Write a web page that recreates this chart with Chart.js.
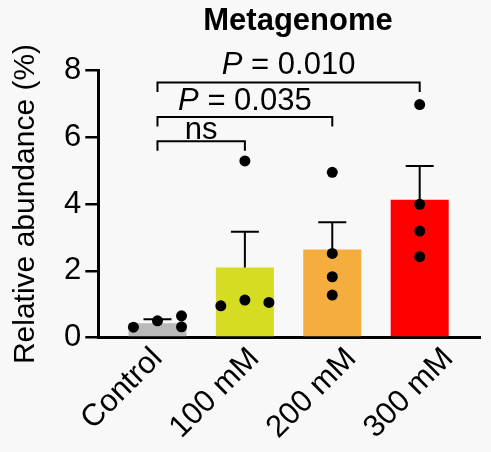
<!DOCTYPE html>
<html>
<head>
<meta charset="utf-8">
<script src="https://cdn.jsdelivr.net/npm/chart.js@4.4.1/dist/chart.umd.min.js"></script>
<style>
  html, body { margin: 0; padding: 0; background: #f8f8f8; }
</style>
</head>
<body>
<canvas id="metagenomeChart" width="491" height="452"></canvas>
<script>
// values
const groups = ['Control', '100 mM', '200 mM', '300 mM'];
const means = [0.43, 2.10, 2.64, 4.13];
const sems = [0.115, 1.07, 0.81, 1.01];
const replicates = [
  [0.31, 0.50, 0.65, 0.32],
  [0.95, 1.12, 1.05, 5.29],
  [2.52, 1.82, 1.27, 4.95],
  [3.99, 3.19, 2.42, 6.98]
];
const yTicks = [0, 2, 4, 6, 8];

// significance brackets
const bracketFrom = [0, 0, 0];
const bracketTo = [1, 2, 3];
const bracketY = [5.88, 6.61, 7.64];
const bracketLabelY = [5.96, 6.81, 7.91];
const bracketLabels = ['ns', 'P = 0.035', 'P = 0.010'];

const barColors = ['#b9b9b9', '#d5dc22', '#f5ad3d', '#fe0000'];
const FONT = "'Liberation Sans', Arial, sans-serif";
const SIZE = 31;
// category labels sit a little wider apart than the bars in the original
const LABEL_STEP = 1.11;

// horizontal spread of dots that would overlap (in category units)
const spread = [
  [-0.275, 0, 0.275, 0.275],
  [-0.275, 0, 0.275, 0],
  [0, 0, 0, 0],
  [0, 0, 0, 0]
];

const dots = [];
replicates.forEach((vals, i) => {
  vals.forEach((v, j) => dots.push({ x: i + spread[i][j], y: v }));
});

const background = {
  id: 'background',
  beforeDraw(chart) {
    const ctx = chart.ctx;
    ctx.save();
    ctx.fillStyle = '#f8f8f8';
    ctx.fillRect(0, 0, chart.width, chart.height);
    ctx.restore();
  }
};

const errorBars = {
  id: 'errorBars',
  afterDatasetDraw(chart, args) {
    if (args.index !== 1) return;
    const { ctx, scales: { x, y } } = chart;
    ctx.save();
    ctx.strokeStyle = '#000';
    ctx.lineWidth = 2;
    means.forEach((m, i) => {
      const cx = x.getPixelForValue(i);
      const top = y.getPixelForValue(m + sems[i]);
      ctx.beginPath();
      ctx.moveTo(cx, y.getPixelForValue(m));
      ctx.lineTo(cx, top);
      ctx.moveTo(cx - 14, top);
      ctx.lineTo(cx + 14, top);
      ctx.stroke();
    });
    ctx.restore();
  }
};

function drawPLabel(ctx, text, cx, baseline) {
  const italic = 'italic ' + SIZE + 'px ' + FONT;
  const normal = SIZE + 'px ' + FONT;
  let head = '';
  let rest = text;
  if (text.startsWith('P ')) {
    head = 'P';
    rest = text.slice(1);
  }
  ctx.font = italic;
  const w1 = head ? ctx.measureText(head).width : 0;
  ctx.font = normal;
  const w2 = ctx.measureText(rest).width;
  let x = cx - (w1 + w2) / 2;
  ctx.textAlign = 'left';
  ctx.textBaseline = 'alphabetic';
  if (head) {
    ctx.font = italic;
    ctx.fillText(head, x, baseline);
    x += w1;
  }
  ctx.font = normal;
  ctx.fillText(rest, x, baseline);
}

const annotations = {
  id: 'annotations',
  afterDraw(chart) {
    const { ctx, scales: { x, y } } = chart;
    ctx.save();
    ctx.fillStyle = '#000';
    ctx.strokeStyle = '#000';
    ctx.lineWidth = 2;
    bracketY.forEach((v, k) => {
      const x1 = x.getPixelForValue(bracketFrom[k]);
      const x2 = x.getPixelForValue(bracketTo[k]);
      const yy = y.getPixelForValue(v);
      ctx.beginPath();
      ctx.moveTo(x1, yy + 9.5);
      ctx.lineTo(x1, yy);
      ctx.lineTo(x2, yy);
      ctx.lineTo(x2, yy + 9.5);
      ctx.stroke();
      drawPLabel(ctx, bracketLabels[k], (x1 + x2) / 2, y.getPixelForValue(bracketLabelY[k]));
    });
    ctx.font = 'bold ' + SIZE + 'px ' + FONT;
    ctx.textAlign = 'center';
    ctx.textBaseline = 'alphabetic';
    ctx.fillText('Metagenome', 298, 29.5);
    ctx.restore();
  }
};

new Chart(document.getElementById('metagenomeChart'), {
  type: 'bar',
  data: {
    datasets: [
      {
        type: 'scatter',
        data: dots,
        backgroundColor: '#000',
        borderWidth: 0,
        pointRadius: 5.5,
        order: 0
      },
      {
        type: 'bar',
        data: means.map((m, i) => ({ x: i, y: m })),
        backgroundColor: barColors,
        borderWidth: 0,
        barPercentage: 0.664,
        categoryPercentage: 1,
        order: 1
      }
    ]
  },
  options: {
    responsive: false,
    animation: false,
    events: [],
    layout: { padding: { top: 70.5, right: 11, bottom: 0, left: 0 } },
    plugins: {
      legend: { display: false },
      tooltip: { enabled: false }
    },
    scales: {
      x: {
        type: 'linear',
        min: -0.677,
        max: 3.69,
        offset: false,
        grid: { display: false, drawTicks: false, offset: false },
        border: { display: true, color: '#000', width: 3 },
        afterBuildTicks: s => { s.ticks = groups.map((g, i) => ({ value: i * LABEL_STEP })); },
        afterFit: s => { s.height = 114.5; },
        ticks: {
          callback: (v, i) => groups[i],
          autoSkip: false,
          minRotation: 45,
          maxRotation: 45,
          color: '#000',
          padding: 3,
          font: { family: FONT, size: SIZE }
        }
      },
      y: {
        min: 0,
        max: 8,
        afterBuildTicks: s => { s.ticks = yTicks.map(v => ({ value: v })); },
        afterFit: s => { s.width = 98.3; },
        grid: { drawOnChartArea: false, drawTicks: true, tickLength: 13, color: '#000', lineWidth: 2.5 },
        border: { display: true, color: '#000', width: 3 },
        ticks: { color: '#000', padding: 4, font: { family: FONT, size: SIZE } },
        title: {
          display: true,
          text: 'Relative abundance (%)',
          color: '#000',
          padding: { top: 7.5, bottom: 0 },
          font: { family: FONT, size: 30 }
        }
      }
    }
  },
  plugins: [background, errorBars, annotations]
});
</script>
</body>
</html>
